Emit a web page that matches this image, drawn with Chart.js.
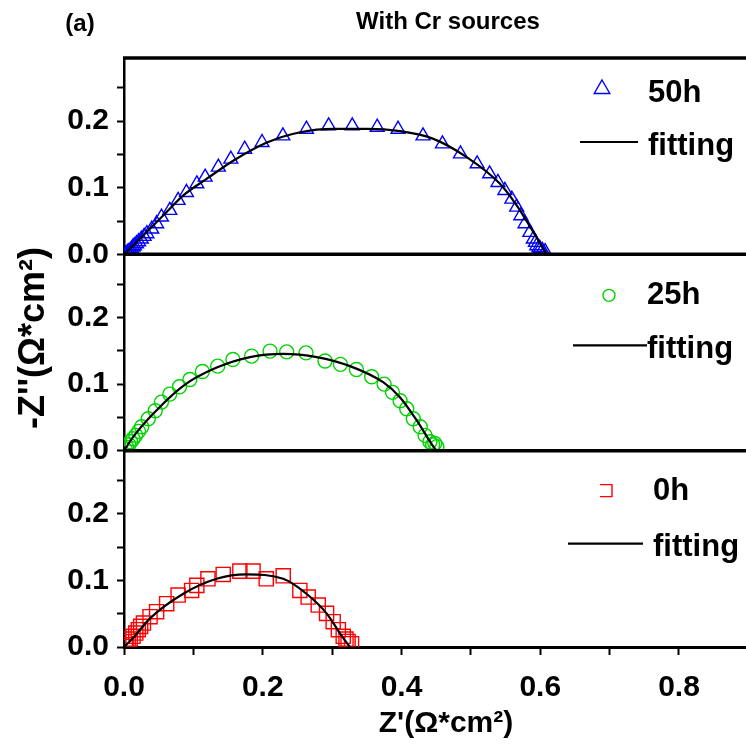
<!DOCTYPE html>
<html>
<head>
<meta charset="utf-8">
<script src="https://cdn.jsdelivr.net/npm/chart.js@4.4.1/dist/chart.umd.min.js"></script>
<style>
  html, body { margin: 0; padding: 0; background: #fff; overflow: hidden; }
  #wrap { position: relative; width: 746px; height: 747px; }
</style>
</head>
<body>
<div id="wrap"><canvas id="c" width="746" height="747"></canvas></div>
<script>
// ---------- data ----------
const xTicks = [0.0, 0.2, 0.4, 0.6, 0.8];
const yTicks = [0.0, 0.1, 0.2];

// 50h measured points
const h50X = [0.003,0.005,0.007,0.009,0.011,0.013,0.015,0.018,0.021,0.025,0.029,0.033,0.040,0.047,0.054,0.066,0.078,0.090,0.105,0.117,0.136,0.154,0.174,0.199,0.229,0.263,0.295,0.329,0.365,0.395,0.431,0.459,0.485,0.509,0.527,0.539,0.549,0.559,0.566,0.572,0.578,0.585,0.590,0.593,0.595,0.598,0.600,0.603,0.607];
const h50Y = [0.001,0.003,0.004,0.006,0.008,0.011,0.013,0.016,0.019,0.023,0.027,0.031,0.038,0.046,0.056,0.066,0.081,0.093,0.106,0.116,0.131,0.143,0.158,0.168,0.178,0.188,0.193,0.193,0.191,0.188,0.178,0.166,0.151,0.136,0.121,0.108,0.096,0.083,0.071,0.058,0.046,0.033,0.023,0.018,0.013,0.010,0.008,0.006,0.004];
// 50h fitting curve
const fit50X = [0.000,0.0135,0.0375,0.0615,0.0855,0.120,0.158,0.206,0.254,0.302,0.350,0.398,0.446,0.494,0.542,0.566,0.590,0.600,0.609];
const fit50Y = [0.000,0.0135,0.0385,0.0635,0.0885,0.114,0.141,0.168,0.1835,0.1885,0.1885,0.185,0.1735,0.146,0.106,0.0735,0.0335,0.016,0.000];

// 25h measured points
const h25X = [0.002,0.004,0.007,0.0096,0.013,0.017,0.021,0.0255,0.035,0.045,0.054,0.066,0.080,0.095,0.113,0.135,0.157,0.184,0.2105,0.2345,0.2624,0.2898,0.312,0.335,0.357,0.375,0.387,0.398,0.4075,0.417,0.427,0.434,0.441,0.445,0.448,0.451];
const h25Y = [0.002,0.005,0.009,0.0134,0.018,0.023,0.029,0.036,0.048,0.060,0.073,0.085,0.096,0.107,0.119,0.127,0.137,0.142,0.1495,0.1485,0.147,0.1347,0.1297,0.122,0.111,0.100,0.0876,0.075,0.063,0.048,0.036,0.023,0.0134,0.009,0.011,0.006];
// 25h fitting curve
const fit25X = [0.000,0.0135,0.0375,0.0855,0.1336,0.1816,0.2297,0.2778,0.3258,0.374,0.398,0.422,0.446,0.4507];
const fit25Y = [0.000,0.021,0.0505,0.0975,0.1248,0.1406,0.1455,0.1406,0.127,0.1025,0.080,0.0455,0.006,0.000];

// 0h measured points
const h0X = [0.002,0.003,0.006,0.009,0.013,0.017,0.0206,0.024,0.028,0.0375,0.047,0.0615,0.078,0.0975,0.105,0.121,0.143,0.167,0.186,0.205,0.2295,0.2535,0.2655,0.280,0.292,0.3015,0.309,0.316,0.320,0.323,0.328];
const h0Y = [0.001,0.0035,0.008,0.012,0.016,0.021,0.026,0.031,0.036,0.0455,0.053,0.065,0.078,0.085,0.0926,0.1025,0.109,0.114,0.114,0.1025,0.107,0.085,0.075,0.063,0.0505,0.038,0.026,0.016,0.012,0.0084,0.005];
// 0h fitting curve
const fit0X = [0.000,0.0135,0.0375,0.0855,0.1335,0.1767,0.2295,0.263,0.292,0.311,0.3255];
const fit0Y = [0.000,0.014,0.043,0.080,0.1025,0.109,0.1025,0.080,0.0505,0.021,0.000];

const panelLabels = ['50h', '25h', '0h'];
const fitLabel = 'fitting';
const titleText = 'With Cr sources';
const panelTag = '(a)';
const xTitle = "Z'(Ω*cm²)";
const yTitle = "-Z''(Ω*cm²)";

// ---------- helpers ----------
const FONT = '"Liberation Sans", Arial, Helvetica, sans-serif';
const pts = (xs, ys) => xs.map((x, i) => ({ x: x, y: ys[i] }));

const colors = { blue: '#0000ff', green: '#00d400', red: '#ff0000' };

function markerSet(label, xs, ys, axis, style, color, r) {
  return {
    type: 'scatter', label: label, data: pts(xs, ys), yAxisID: axis,
    pointStyle: style, pointRadius: r, pointHoverRadius: r,
    pointBorderColor: color, pointBackgroundColor: 'rgba(0,0,0,0)',
    pointBorderWidth: 1.4, showLine: false, order: 2
  };
}
function fitSet(xs, ys, axis) {
  return {
    type: 'line', label: fitLabel, data: pts(xs, ys), yAxisID: axis,
    borderColor: '#000', borderWidth: 2.2, pointRadius: 0, fill: false,
    cubicInterpolationMode: 'monotone', order: 1
  };
}

function yAxis(weight) {
  return {
    type: 'linear', position: 'left', stack: 'panels', stackWeight: 1, weight: weight,
    bounds: 'data', min: 0, max: 0.295,
    border: { display: true, color: '#000', width: 2.5 },
    grid: { drawOnChartArea: false, drawTicks: true, tickLength: 7, tickColor: '#000', tickWidth: 2 },
    ticks: {
      stepSize: 0.05, includeBounds: false, autoSkip: false, padding: 8, color: '#000',
      font: { family: FONT, size: 30, weight: 'bold' },
      callback: v => {
        const k = Math.round(v * 100);
        return (k % 10 === 0 && yTicks.some(t => Math.round(t * 100) === k)) ? (k / 100).toFixed(1) : '';
      }
    },
    afterBuildTicks: s => { s.ticks = s.ticks.filter(t => t.value <= s.max + 1e-9); },
    afterFit: s => { s.width = 124; }
  };
}

const legends = [
  { axis: 'yTop', style: 'triangle', color: colors.blue, mx: 602, my: 31, r: 9, tx: 648, ty: 35, lx1: 580, lx2: 638, ly: 84, fx: 648, fy: 88 },
  { axis: 'yMid', style: 'circle',   color: colors.green, mx: 609, my: 41, r: 6, tx: 647, ty: 41, lx1: 573, lx2: 647, ly: 91, fx: 647, fy: 95 },
  { axis: 'yBot', style: 'bracket',  color: colors.red,  mx: 606, my: 40, r: 6, tx: 653, ty: 41, lx1: 568, lx2: 643, ly: 93, fx: 653, fy: 97 }
];

const decor = {
  id: 'decor',
  beforeDraw(chart) {
    const ctx = chart.ctx;
    ctx.save();
    ctx.fillStyle = '#fff';
    ctx.fillRect(0, 0, chart.width, chart.height);
    ctx.restore();
  },
  afterDraw(chart) {
    const ctx = chart.ctx;
    const a = chart.chartArea;
    ctx.save();
    // frame lines
    ctx.strokeStyle = '#000';
    ctx.lineWidth = 3.5;
    ctx.beginPath();
    ctx.moveTo(a.left - 1, a.top); ctx.lineTo(chart.width, a.top);
    ['yTop', 'yMid'].forEach(id => {
      const s = chart.scales[id];
      ctx.moveTo(a.left - 1, s.bottom); ctx.lineTo(chart.width, s.bottom);
    });
    ctx.stroke();

    // per-panel legends
    legends.forEach((L, i) => {
      const top = chart.scales[L.axis].top;
      ctx.strokeStyle = L.color;
      ctx.fillStyle = 'rgba(0,0,0,0)';
      ctx.lineWidth = 1.4;
      if (L.style === 'bracket') {
        const h = L.r;
        ctx.beginPath();
        ctx.moveTo(L.mx - h, top + L.my - h);
        ctx.lineTo(L.mx + h, top + L.my - h);
        ctx.lineTo(L.mx + h, top + L.my + h);
        ctx.lineTo(L.mx - h, top + L.my + h);
        ctx.stroke();
      } else {
        Chart.helpers.drawPoint(ctx, { pointStyle: L.style, radius: L.r, borderWidth: 1.4, rotation: 0 }, L.mx, top + L.my);
      }
      ctx.strokeStyle = '#000';
      ctx.lineWidth = 2.2;
      ctx.beginPath();
      ctx.moveTo(L.lx1, top + L.ly); ctx.lineTo(L.lx2, top + L.ly);
      ctx.stroke();
      ctx.fillStyle = '#000';
      ctx.font = 'bold 31px ' + FONT;
      ctx.textAlign = 'left';
      ctx.textBaseline = 'middle';
      ctx.fillText(panelLabels[i], L.tx, top + L.ty);
      ctx.fillText(fitLabel, L.fx, top + L.fy);
    });

    // titles
    ctx.fillStyle = '#000';
    ctx.textBaseline = 'middle';
    ctx.textAlign = 'center';
    ctx.font = 'bold 24px ' + FONT;
    ctx.fillText(titleText, 448, 22);
    ctx.fillText(panelTag, 80, 24);
    ctx.font = 'bold 30px ' + FONT;
    ctx.fillText(xTitle, 446, 724);
    ctx.font = 'bold 36px ' + FONT;
    ctx.translate(34, 338);
    ctx.rotate(-Math.PI / 2);
    ctx.fillText(yTitle, 0, 0);
    ctx.restore();
  }
};

new Chart(document.getElementById('c'), {
  data: {
    datasets: [
      markerSet('50h', h50X, h50Y, 'yTop', 'triangle', colors.blue, 8),
      fitSet(fit50X, fit50Y, 'yTop'),
      markerSet('25h', h25X, h25Y, 'yMid', 'circle', colors.green, 7),
      fitSet(fit25X, fit25Y, 'yMid'),
      markerSet('0h', h0X, h0Y, 'yBot', 'rect', colors.red, 10),
      fitSet(fit0X, fit0Y, 'yBot')
    ]
  },
  options: {
    responsive: false,
    animation: false,
    layout: { autoPadding: false, padding: { top: 58, left: 0, right: 0, bottom: 0 } },
    plugins: { legend: { display: false }, tooltip: { enabled: false }, title: { display: false } },
    scales: {
      x: {
        type: 'linear', position: 'bottom', bounds: 'data', min: 0, max: 0.8966,
        border: { display: true, color: '#000', width: 3 },
        grid: { drawOnChartArea: false, drawTicks: true, tickLength: 8, tickColor: '#000', tickWidth: 2 },
        ticks: {
          stepSize: 0.1, includeBounds: false, autoSkip: false, maxRotation: 0, padding: 15, color: '#000',
          font: { family: FONT, size: 30, weight: 'bold' },
          callback: v => {
            const k = Math.round(v * 10);
            return xTicks.some(t => Math.round(t * 10) === k) ? (k / 10).toFixed(1) : '';
          }
        },
        afterBuildTicks: s => { s.ticks = s.ticks.filter(t => t.value <= s.max + 1e-9); },
        afterFit: s => { s.height = 100; s.paddingLeft = 0; s.paddingRight = 0; }
      },
      yTop: yAxis(3),
      yMid: yAxis(2),
      yBot: yAxis(1)
    }
  },
  plugins: [decor]
});
</script>
</body>
</html>
